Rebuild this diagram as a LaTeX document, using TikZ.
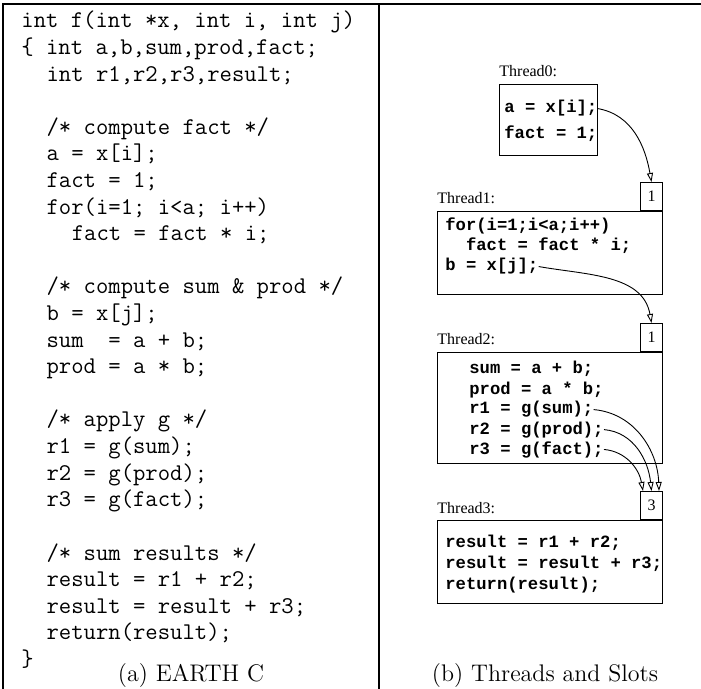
\documentclass[tikz,border=0pt]{standalone}
\usepackage{fontspec}
\newfontfamily\thrcode{Liberation Mono}
\newfontfamily\thrlabel{Liberation Serif}
\usetikzlibrary{arrows.meta, positioning}

\begin{document}
\begin{tikzpicture}[
    x=0.5pt, y=0.5pt,
    srcline/.style={anchor=base west, inner sep=0pt, font=\fontsize{12}{13.3}\selectfont\ttfamily},
    caption/.style={inner sep=0pt, font=\fontsize{12}{14}\selectfont},
    thread/.style={draw, line width=0.5pt, anchor=north west, inner sep=0pt, minimum width=112.5pt},
    slot/.style={draw, line width=0.5pt, anchor=south east, minimum width=11pt, minimum height=14pt, inner sep=0pt, font=\thrlabel\fontsize{8}{9}\selectfont},
    tlabel/.style={anchor=base west, inner sep=0pt, font=\thrlabel\fontsize{8}{9}\selectfont},
    tline/.style={anchor=base west, inner sep=0pt, font=\thrcode\bfseries\fontsize{8.6}{10}\selectfont},
    link/.style={-{Triangle[open, length=4.5pt, width=3pt]}, line width=0.45pt},
    frame/.style={line width=0.7pt}
]
    \useasboundingbox (0,0) rectangle (701,-689);

    % Frame
    \draw[frame] (3,-689) -- (3,-4) -- (701,-4);
    \draw[frame] (379,-4) -- (379,-689);

    % (a) source
    \foreach \i/\c/\txt in {0/0/{int f(int *x, int i, int j)}, 1/0/{\{ int a,b,sum,prod,fact;},
        2/2/{int r1,r2,r3,result;}, 4/2/{/* compute fact */}, 5/2/{a = x[i];}, 6/2/{fact = 1;},
        7/2/{for(i=1; i<a; i++)}, 8/4/{fact = fact * i;}, 10/2/{/* compute sum \& prod */},
        11/2/{b = x[j];}, 12/2/{sum\ \ = a + b;}, 13/2/{prod = a * b;}, 15/2/{/* apply g */},
        16/2/{r1 = g(sum);}, 17/2/{r2 = g(prod);}, 18/2/{r3 = g(fact);}, 20/2/{/* sum results */},
        21/2/{result = r1 + r2;}, 22/2/{result = result + r3;}, 23/2/{return(result);}, 24/0/{\}}}
        \node[srcline] (src\i) at ({21+12.6*\c}, {-28-26.6*\i}) {\txt};
    \node[caption] (capa) at (191,-676) {(a) EARTH C};

    % (b) threads
    \node[thread, minimum width=49pt, minimum height=35.5pt] (t0) at (499,-84) {};
    \node[thread, minimum height=41.5pt] (t1) at (437,-211) {};
    \node[thread, minimum height=55.5pt] (t2) at (437,-352) {};
    \node[thread, minimum height=41.5pt] (t3) at (437,-520) {};

    \node[tlabel] (l0) at ([yshift=3.5pt]t0.north west) {Thread0:};
    \node[tlabel] (l1) at ([yshift=3.5pt]t1.north west) {Thread1:};
    \node[tlabel] (l2) at ([yshift=3.5pt]t2.north west) {Thread2:};
    \node[tlabel] (l3) at ([yshift=3.5pt]t3.north west) {Thread3:};

    % Slots
    \node[slot] (s1) at (t1.north east) {1};
    \node[slot] (s2) at (t2.north east) {1};
    \node[slot] (s3) at (t3.north east) {3};

    % Thread code
    \node[tline] (t0a) at ([xshift=2.5pt, yshift=-14.5pt]t0.north west) {a = x[i];};
    \node[tline, below=13pt of t0a.base west, anchor=base west] (t0b) {fact = 1;};

    \node[tline] (t1a) at ([xshift=4pt, yshift=-10pt]t1.north west) {for(i=1;i<a;i++)};
    \node[tline, below=10pt of t1a.base west, anchor=base west] (t1b) {\hphantom{xx}fact = fact * i;};
    \node[tline, below=10pt of t1b.base west, anchor=base west] (t1c) {b = x[j];};

    \node[tline] (t2a) at ([xshift=16pt, yshift=-11pt]t2.north west) {sum = a + b;};
    \node[tline, below=10pt of t2a.base west, anchor=base west] (t2b) {prod = a * b;};
    \node[tline, below=10pt of t2b.base west, anchor=base west] (t2c) {r1 = g(sum);};
    \node[tline, below=10pt of t2c.base west, anchor=base west] (t2d) {r2 = g(prod);};
    \node[tline, below=10pt of t2d.base west, anchor=base west] (t2e) {r3 = g(fact);};

    \node[tline] (t3a) at ([xshift=4pt, yshift=-13.5pt]t3.north west) {result = r1 + r2;};
    \node[tline, below=10.5pt of t3a.base west, anchor=base west] (t3b) {result = result + r3;};
    \node[tline, below=10.5pt of t3b.base west, anchor=base west] (t3c) {return(result);};

    % Sync arrows
    \draw[link] (t0a.east) to[out=-10, in=100] (s1.north);
    \draw[link] (t1c.east) to[out=-10, in=100] (s2.north);
    \draw[link] (t2c.east) to[out=-5, in=92] ([xshift=-2pt]s3.north east);
    \draw[link] (t2d.east) to[out=-5, in=96] (s3.north);
    \draw[link] (t2e.east) to[out=-5, in=100] ([xshift=1.5pt]s3.north west);

    \node[caption] (capb) at (545,-676) {(b) Threads and Slots};
\end{tikzpicture}
\end{document}
